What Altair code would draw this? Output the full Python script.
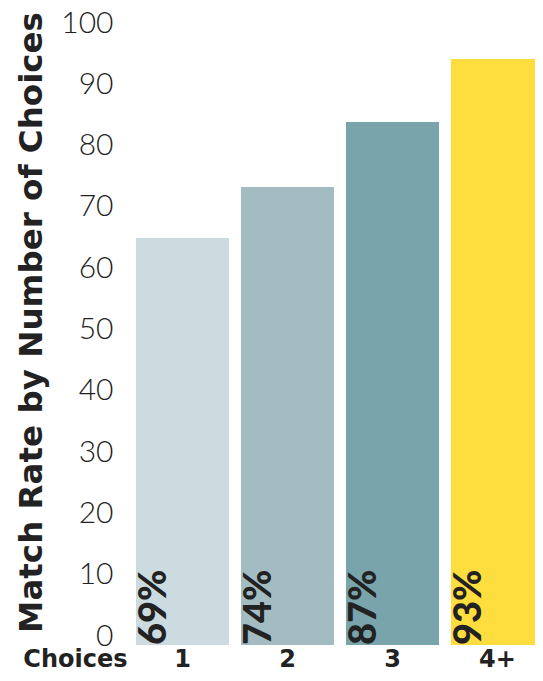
import altair as alt
import pandas as pd

categories = ["1", "2", "3", "4+"]
bar_values = [66.4, 74.7, 85.3, 95.6]
bar_labels = ["69%", "74%", "87%", "93%"]
bar_colors = ["#CBDBDF", "#A3BCC1", "#79A4AB", "#FEDE3E"]
y_ticks = [0, 10, 20, 30, 40, 50, 60, 70, 80, 90, 100]

df = pd.DataFrame({"cat": categories, "val": bar_values, "lab": bar_labels, "zero": [0] * 4})

FONT = "Lato"
BOLD = "DejaVu Sans"

x_enc = alt.X(
    "cat:N",
    sort=categories,
    scale=alt.Scale(range=[0, 420], paddingInner=0.114, paddingOuter=0.057),
    axis=alt.Axis(
        title="Choices",
        titleFont=BOLD,
        titleFontWeight="bold",
        titleFontSize=24,
        titleColor="#222222",
        titleAlign="right",
        titleAnchor="start",
        titleAngle=0,
        titleBaseline="alphabetic",
        titleX=-3,
        titleY=21,
        labelAngle=0,
        labelFont=BOLD,
        labelFontWeight="bold",
        labelFontSize=24,
        labelColor="#222222",
        labelBaseline="alphabetic",
        labelPadding=21,
        domain=False,
        ticks=False,
    ),
)

bars = alt.Chart(df).mark_bar().encode(
    x=x_enc,
    y=alt.Y(
        "val:Q",
        scale=alt.Scale(domain=[0, 100], nice=False),
        axis=alt.Axis(
            values=y_ticks,
            title="Match Rate by Number of Choices",
            titleFont=BOLD,
            titleFontWeight="bold",
            titleFontSize=32.5,
            titleColor="#222222",
            titleAngle=270,
            titleAlign="center",
            titleBaseline="middle",
            titleX=-99,
            titleY=290,
            labelFont=FONT,
            labelFontWeight=300,
            labelFontSize=30,
            labelColor="#222222",
            labelBaseline="alphabetic",
            labelPadding=17,
            domain=False,
            ticks=False,
            grid=False,
        ),
    ),
    color=alt.Color("cat:N", sort=categories, scale=alt.Scale(domain=categories, range=bar_colors), legend=None),
)

text = alt.Chart(df).mark_text(
    angle=270, align="left", baseline="top", font=FONT, fontWeight=900, fontSize=38, color="#222222"
).encode(
    x=alt.X("cat:N", sort=categories, bandPosition=0),
    y=alt.Y("zero:Q"),
    text="lab:N",
)

chart = (
    alt.layer(bars, text)
    .properties(width=405, height=613, autosize=alt.AutoSizeParams(type="none"), padding={"left": 122, "top": 24, "right": 0, "bottom": 28})
    .configure_view(stroke=None)
)

chart.save("out.html", embed_options={"renderer": "svg", "actions": False})
